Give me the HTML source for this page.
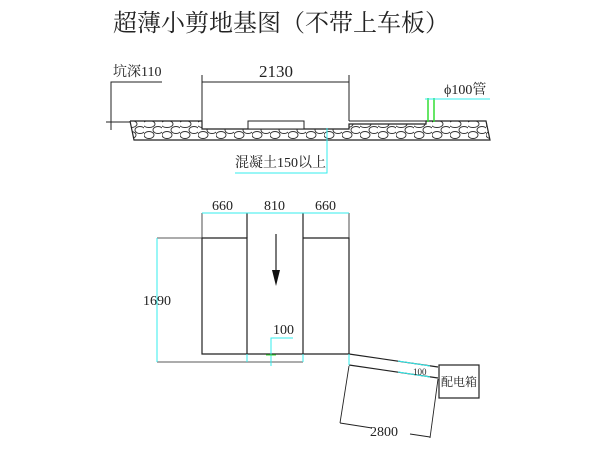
<!DOCTYPE html>
<html><head><meta charset="utf-8"><style>
body{margin:0;background:#fff}
svg{display:block}
text{font-family:"Liberation Serif","Noto Serif CJK SC",serif;fill:#222}
</style></head><body>
<svg width="600" height="451" viewBox="0 0 600 451" xmlns="http://www.w3.org/2000/svg">
<defs>
<pattern id="st" x="0" y="0" width="18" height="20" patternUnits="userSpaceOnUse">
<ellipse cx="5" cy="4" rx="6" ry="3.5" fill="none" stroke="#333" stroke-width="0.9"/>
<ellipse cx="14" cy="10" rx="5" ry="3.5" fill="none" stroke="#333" stroke-width="0.9"/>
<ellipse cx="5" cy="15" rx="5" ry="3.5" fill="none" stroke="#333" stroke-width="0.9"/>
</pattern>
<clipPath id="gc"><polygon points="130,121 202,121 202,129 349,129 349,124 426,124 426,121 486,121 490,140 134,140"/></clipPath>
</defs>
<text x="113" y="31" font-size="24" font-family="Liberation Sans,Noto Sans CJK SC,sans-serif">超薄小剪地基图（不带上车板）</text>
<rect x="128" y="119" width="365" height="23" fill="url(#st)" clip-path="url(#gc)"/>
<polyline points="130,121 202,121 202,129 349,129 349,124 426,124 426,121 486,121 490,140 134,140 130,121" fill="none" stroke="#222" stroke-width="1.2"/>
<line x1="349" y1="121" x2="426" y2="121" stroke="#222"/>
<rect x="248" y="121" width="56" height="8" fill="#fff" stroke="#222"/>
<line x1="202" y1="75" x2="202" y2="121" stroke="#222"/>
<line x1="349" y1="75" x2="349" y2="121" stroke="#222"/>
<line x1="202" y1="82" x2="349" y2="82" stroke="#222"/>
<text x="259" y="77" font-size="17">2130</text>
<text x="113" y="76" font-size="14">坑深110</text>
<polyline points="162,82 111,82 111,130" fill="none" stroke="#222"/>
<line x1="106" y1="122" x2="130" y2="122" stroke="#222"/>
<line x1="428" y1="98" x2="428" y2="122" stroke="#3d3" stroke-width="1.5"/>
<line x1="434" y1="98" x2="434" y2="122" stroke="#3d3" stroke-width="1.5"/>
<line x1="425" y1="99" x2="490" y2="99" stroke="#3ee"/>
<text x="444" y="94" font-size="14">ϕ100管</text>
<polyline points="327,128 327,173 235,173" fill="none" stroke="#3ee"/>
<text x="235" y="167" font-size="14">混凝土150以上</text>
<g stroke="#222" fill="none" stroke-width="1.2">
<polyline points="202,238 247,238 247,354 202,354 202,238"/>
<polyline points="303,238 349,238 349,354 303,354 303,238"/>
<line x1="247" y1="354" x2="303" y2="354"/>
<line x1="202" y1="213" x2="202" y2="238" stroke-width="0.8"/>
<line x1="247" y1="213" x2="247" y2="238"/>
<line x1="303" y1="213" x2="303" y2="238"/>
<line x1="349" y1="213" x2="349" y2="238" stroke-width="0.8"/>
<line x1="157" y1="362" x2="303" y2="362" stroke-width="0.8"/>
<line x1="157" y1="238" x2="202" y2="238" stroke-width="0.8"/>
<line x1="349" y1="354" x2="438" y2="367"/>
<line x1="349" y1="365" x2="438" y2="378"/>
<rect x="439" y="365" width="40" height="33"/>
<line x1="349" y1="366" x2="340" y2="423" stroke-width="0.9"/>
<line x1="438" y1="379" x2="430" y2="438" stroke-width="0.9"/>
<line x1="340" y1="423" x2="372" y2="428" stroke-width="0.9"/>
<line x1="410" y1="434" x2="430" y2="437" stroke-width="0.9"/>
<line x1="276" y1="234" x2="276" y2="270"/>
</g>
<polygon points="272,270 280,270 276,286" fill="#111"/>
<g stroke="#3ee" stroke-width="1" fill="none">
<line x1="202" y1="213" x2="349" y2="213"/>
<line x1="157" y1="238" x2="157" y2="362"/>
<line x1="247" y1="354" x2="247" y2="362"/>
<line x1="303" y1="354" x2="303" y2="362"/>
<polyline points="293,338 271,338 271,366"/>
<line x1="349" y1="354" x2="349" y2="365"/>
<line x1="398" y1="361" x2="430" y2="366"/>
<line x1="398" y1="372" x2="430" y2="377"/>
</g>
<line x1="266" y1="355" x2="276" y2="355" stroke="#3d3"/>
<text x="212" y="210" font-size="14">660</text>
<text x="264" y="210" font-size="14">810</text>
<text x="315" y="210" font-size="14">660</text>
<text x="143" y="305" font-size="14">1690</text>
<text x="273" y="334" font-size="14">100</text>
<text x="413" y="375" font-size="9">100</text>
<text x="441" y="386" font-size="12" font-family="Liberation Sans,Noto Sans CJK SC,sans-serif">配电箱</text>
<text x="370" y="436" font-size="14">2800</text>
</svg>
</body></html>
